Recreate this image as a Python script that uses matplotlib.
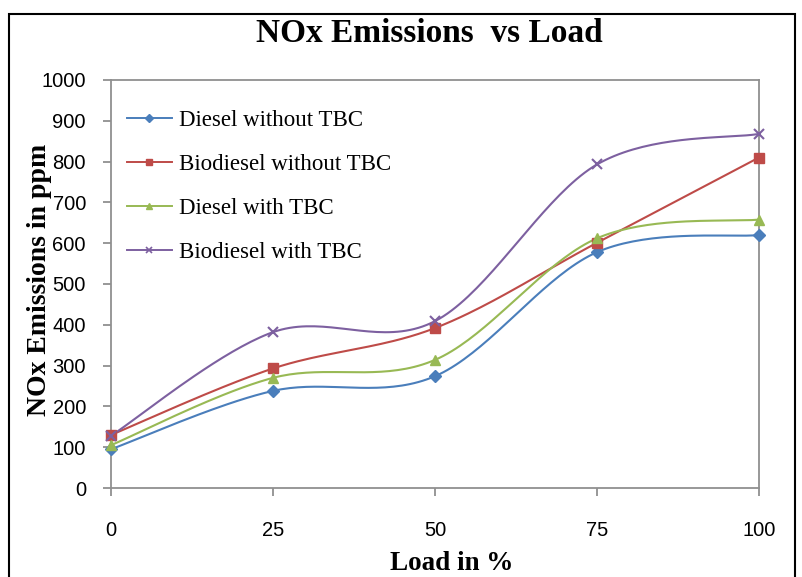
import numpy as np
import matplotlib.pyplot as plt
from matplotlib.lines import Line2D
from matplotlib.patches import Rectangle

# --- DATA ---
load = [0, 25, 50, 75, 100]
diesel_no_tbc = [95, 238, 274, 578, 620]
biodiesel_no_tbc = [130, 293, 392, 601, 810]
diesel_tbc = [105, 270, 314, 612, 658]
biodiesel_tbc = [128, 382, 409, 793, 868]

series = [
    ("Diesel without TBC", diesel_no_tbc, "#4A7EBB", "D", 6),
    ("Biodiesel without TBC", biodiesel_no_tbc, "#BE4B48", "s", 7),
    ("Diesel with TBC", diesel_tbc, "#98B954", "^", 7),
    ("Biodiesel with TBC", biodiesel_tbc, "#7D60A0", "x", 7),
]


def smooth(xs, ys, n=40):
    # Excel-like smoothed line (Catmull-Rom through the points)
    p = np.column_stack([xs, ys]).astype(float)
    p = np.vstack([p[0], p, p[-1]])
    out = []
    t = np.linspace(0, 1, n)[:, None]
    for i in range(1, len(p) - 2):
        p0, p1, p2, p3 = p[i - 1], p[i], p[i + 1], p[i + 2]
        c1 = p1 + (p2 - p0) / 6
        c2 = p2 - (p3 - p1) / 6
        seg = ((1 - t) ** 3) * p1 + 3 * ((1 - t) ** 2) * t * c1 \
            + 3 * (1 - t) * t ** 2 * c2 + t ** 3 * p2
        out.append(seg)
    out = np.vstack(out)
    return out[:, 0], out[:, 1]


fig = plt.figure(figsize=(8.03, 5.77), dpi=100)
ax = fig.add_axes([111 / 803, 1 - 488 / 577, 648 / 803, 408 / 577])

handles = []
for label, vals, color, mk, ms in series:
    sx, sy = smooth(load, vals)
    ax.plot(sx, sy, color=color, lw=1.5, clip_on=False, zorder=3)
    ax.plot(load, vals, ls="none", marker=mk, color=color, ms=ms,
            mew=1.5 if mk == "x" else 1, clip_on=False, zorder=4)
    handles.append(Line2D([], [], color=color, lw=1.4, marker=mk,
                          ms=ms - 2, mew=1.2 if mk == "x" else 1))

ax.set_xlim(0, 100)
ax.set_ylim(0, 1000)
ax.set_xticks(load)
ax.set_yticks(range(0, 1001, 100))

for s in ax.spines.values():
    s.set_color("#909090")
    s.set_linewidth(1.3)
ax.tick_params(direction="out", length=6, width=1.3, color="#909090",
               labelsize=14.5, pad=12)
for lab in ax.get_xticklabels() + ax.get_yticklabels():
    lab.set_fontfamily("Liberation Sans")
ax.tick_params(axis="x", pad=18)

serif = "Liberation Serif"
fig.text(0.535, 1 - 34 / 577, "NOx Emissions  vs Load", ha="center", va="center",
         fontsize=24, fontweight="bold", fontfamily=serif)
ax.set_xlabel("Load in %", fontsize=19.5, fontweight="bold", fontfamily=serif)
ax.xaxis.set_label_coords((452 - 111) / 648, -0.155)
ax.set_ylabel("NOx Emissions in ppm", fontsize=20, fontweight="bold",
              fontfamily=serif)
ax.yaxis.set_label_coords(-0.0915, 0.51)

ax.legend(handles, [s[0] for s in series], loc="upper left",
          bbox_to_anchor=(-0.007, 0.977), frameon=False,
          prop={"family": serif, "size": 16.5}, handlelength=1.95,
          handletextpad=0.3, labelspacing=1.0)

# outer chart frame
fig.patches.append(Rectangle((9 / 803, -0.02), 786 / 803, 0.02 + 1 - 14 / 577,
                             transform=fig.transFigure, fill=False,
                             edgecolor="black", lw=1.5))

fig.savefig("out.png", dpi=100)
